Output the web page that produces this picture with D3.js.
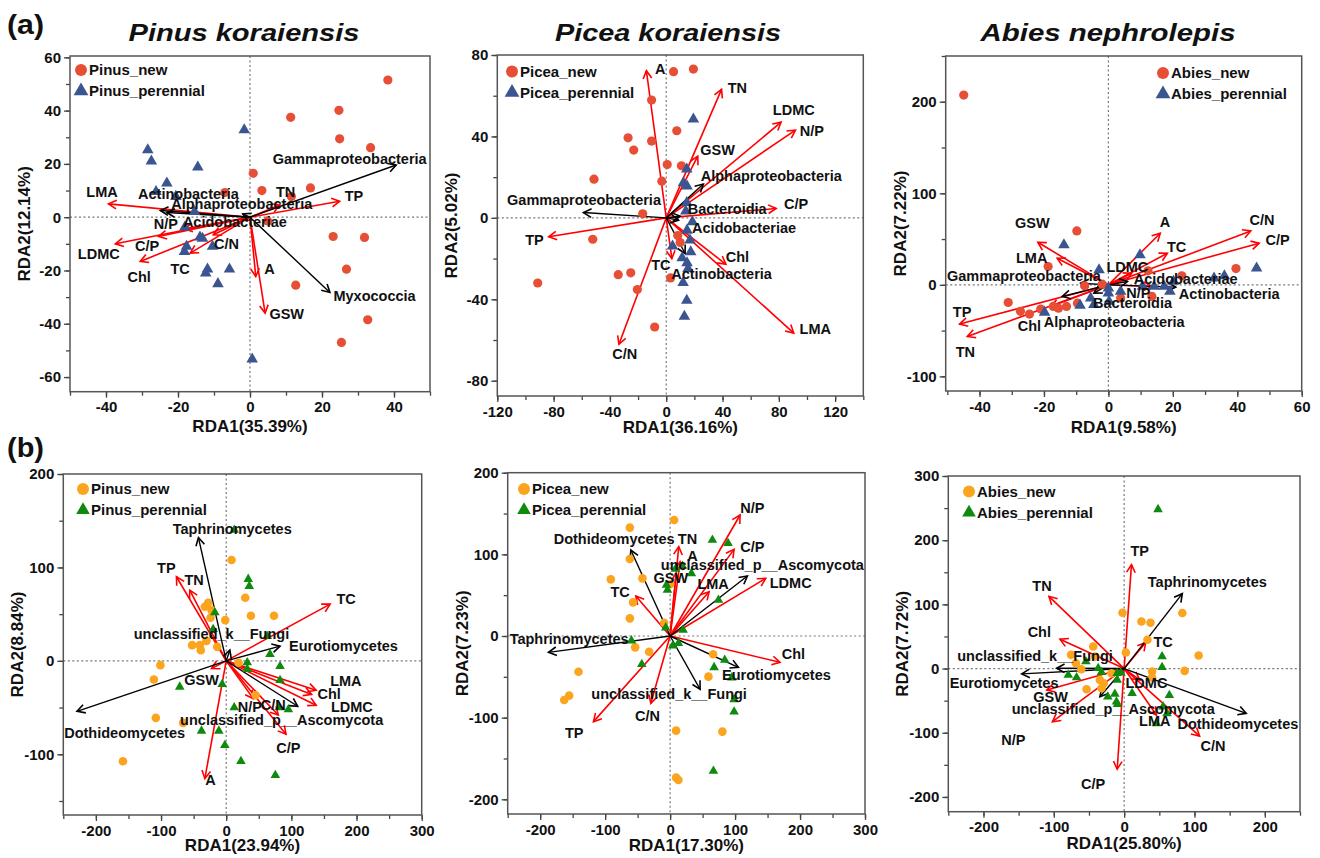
<!DOCTYPE html>
<html><head><meta charset="utf-8">
<script src="https://cdn.jsdelivr.net/npm/d3@7"></script>
<style>
body{margin:0;background:#fff;}
svg text{font-family:"Liberation Sans",Arial,sans-serif;font-weight:bold;fill:#111;}
</style></head>
<body><svg id="c" width="1320" height="858"></svg>
<script>
// ---------------- DATA ----------------
const speciesTitles = ["Pinus koraiensis","Picea koraiensis","Abies nephrolepis"];
const xAxisTitles = ["RDA1(35.39%)","RDA1(36.16%)","RDA1(9.58%)","RDA1(23.94%)","RDA1(17.30%)","RDA1(25.80%)"];
const yAxisTitles = ["RDA2(12.14%)","RDA2(5.02%)","RDA2(7.22%)","RDA2(8.84%)","RDA2(7.23%)","RDA2(7.72%)"];
const legendNew = ["Pinus_new","Picea_new","Abies_new","Pinus_new","Picea_new","Abies_new"];
const legendPer = ["Pinus_perennial","Picea_perennial","Abies_perennial","Pinus_perennial","Picea_perennial","Abies_perennial"];
const xDomains = [[-50,50],[-120,140],[-50.5,60],[-250,300],[-250,300],[-250,250]];
const yDomains = [[-65.5,60.5],[-87.5,80],[-116,250],[-165,200],[-218,200],[-223,300]];
const xTicks = [[-40,-20,0,20,40],[-120,-80,-40,0,40,80,120],[-40,-20,0,20,40,60],[-200,-100,0,100,200,300],[-200,-100,0,100,200,300],[-200,-100,0,100,200]];
const yTicks = [[-60,-40,-20,0,20,40,60],[-80,-40,0,40,80],[-100,0,100,200],[-100,0,100,200],[-200,-100,0,100,200],[-200,-100,0,100,200,300]];
const xMinorStep = [10,20,10,50,50,50];
const yMinorStep = [10,20,50,50,50,50];

// (a) bacteria - Pinus
const pinusBactNew = [[38.3,51.5],[24.7,40.1],[11.3,37.5],[24.9,29.4],[33.5,26.1],[0.9,16.5],[16.8,11],[3.3,10],[11.5,7.75],[-7.0,9.25],[4.9,-1.4],[23.1,-7.25],[31.8,-7.6],[26.8,-19.5],[12.7,-25.5],[32.7,-38.5],[25.4,-47]];
const pinusBactPer = [[-1.6,32.75],[-28.4,25.25],[-27.4,21],[-14.5,18.75],[-23.1,12.75],[-26.1,9.6],[-20.6,7.75],[-15.4,2.1],[-18.1,-3.75],[-13.9,-7.5],[-13.2,-8],[-17.6,-11],[-18.2,-12.9],[-10.4,-11],[-11.8,-19.5],[-12.3,-21],[-5.7,-19.5],[-8.9,-25],[0.6,-53.25]];
const pinusBactEnv = [
 {n:"LMA",x:-39.3,y:5,lx:-41.1,ly:9.6},{n:"TP",x:24.9,y:6,lx:28.9,ly:8},{n:"TN",x:8.3,y:4.6,lx:9.9,ly:9.6},
 {n:"LDMC",x:-37.4,y:-10,lx:-42,ly:-13.9},{n:"Chl",x:-30.5,y:-16.6,lx:-30.8,ly:-22.5},{n:"C/P",x:-25.4,y:-7.25,lx:-28.6,ly:-10.75},
 {n:"N/P",x:-18.2,y:-4.4,lx:-23.4,ly:-2.5},{n:"TC",x:-16.6,y:-13.5,lx:-19.4,ly:-19.25},{n:"C/N",x:-10.2,y:-6.6,lx:-6.5,ly:-10},
 {n:"A",x:1.6,y:-22.25,lx:5.4,ly:-19.5},{n:"GSW",x:4.2,y:-36,lx:10.2,ly:-36.25}];
const pinusBactTaxa = [
 {n:"Gammaproteobacteria",x:40.6,y:19.6,lx:27.7,ly:21.75},{n:"Myxococcia",x:22.2,y:-28.25,lx:34.6,ly:-29.4},
 {n:"Actinobacteria",x:-24.9,y:2.5,lx:-17.1,ly:8.6},{n:"Alphaproteobacteria",x:-23.1,y:1.75,lx:-2.3,ly:4.9},
 {n:"Acidobacteriae",x:-2,y:1.2,lx:-4.2,ly:-1.9}];

// (a) bacteria - Picea
const piceaBactNew = [[5.2,71.8],[19.3,73.1],[-10.4,57.9],[7.5,42.8],[-27.1,39.3],[-10.4,37.7],[-23.1,33.3],[0.7,26.2],[10.8,25.6],[-51.3,19],[-3.1,18],[-16.7,2],[-52.2,-10.5],[8.2,-8.7],[9.9,-12.1],[-25.2,-27],[-34.1,-27.9],[3.1,-29.5],[-20.5,-35.2],[-91.3,-32],[-8.2,-53.6]];
const piceaBactPer = [[19.3,48.5],[14.6,23.9],[12.2,17.2],[14.8,15.6],[14.6,7.5],[13.9,3.3],[18.6,-2],[14.8,-6.1],[16.9,-11],[17.4,-16.7],[4.5,-13.9],[11.3,-19.7],[14.8,-22.1],[15.5,-24.9],[12,-31.8],[14.6,-40.5],[12.9,-48.4]];
const piceaBactEnv = [
 {n:"A",x:-14.1,y:72.3,lx:-4.2,ly:73.4},{n:"TN",x:39.3,y:63.1,lx:50.6,ly:63.9},{n:"LDMC",x:81.6,y:47,lx:90.6,ly:53},
 {n:"N/P",x:91.8,y:43.1,lx:103.5,ly:42.8},{n:"GSW",x:22.4,y:30.3,lx:36.5,ly:33.6},{n:"C/P",x:78.1,y:4.6,lx:92.2,ly:7},
 {n:"TP",x:-83.5,y:-9.3,lx:-93.6,ly:-10.7},{n:"Chl",x:42.4,y:-22.8,lx:50.6,ly:-19.2},{n:"LMA",x:90.6,y:-56.6,lx:105.9,ly:-54.4},
 {n:"C/N",x:-33.6,y:-62.1,lx:-29.4,ly:-67},{n:"TC",x:4,y:-20,lx:-3.8,ly:-22.8}];
const piceaBactTaxa = [
 {n:"Gammaproteobacteria",x:-58.8,y:2.6,lx:-58.4,ly:8.7},{n:"Alphaproteobacteria",x:26.4,y:16.6,lx:74.6,ly:20.5},
 {n:"Bacteroidia",x:9.9,y:0.8,lx:43.3,ly:4.3},{n:"Acidobacteriae",x:8.7,y:-1.1,lx:55.3,ly:-4.8},
 {n:"Actinobacteria",x:13.4,y:-17.5,lx:39.3,ly:-27.4}];

// (a) bacteria - Abies
const abiesBactNew = [[-44.9,207.3],[-9.8,58.9],[-18.7,20],[-7.4,-1.1],[-1.9,0.7],[12.3,15.3],[22.8,9.8],[39.6,17.8],[13.5,-12.7],[3.8,-14.5],[-9.6,-20],[-13,-23.6],[-15.5,-25.5],[-17.1,-23.6],[-21,-26.5],[-24.5,-32],[-27.3,-29],[-31.1,-19.3]];
const abiesBactPer = [[-13.8,43.6],[-2.9,16.4],[9.8,32.7],[10.6,-1.8],[14.2,-1.8],[17.3,-1.8],[19.1,-7.3],[20.2,3.6],[32.8,7.3],[36,9.8],[46,18.2],[3.8,-7.3],[0,-9.1],[0.2,-18.2],[-5.5,-14.5],[-4.5,-21.8],[-8.8,-22.5],[-19.8,-30.2],[0,-3.6]];
const abiesBactEnv = [
 {n:"GSW",x:-21.9,y:46.5,lx:-23.6,ly:67.3},{n:"LMA",x:-15.9,y:29.1,lx:-23.8,ly:29.1},{n:"A",x:16.1,y:56.4,lx:17.6,ly:69.1},
 {n:"TC",x:18.3,y:34.5,lx:21.2,ly:41.1},{n:"C/N",x:44.2,y:58.9,lx:47.7,ly:70.9},{n:"C/P",x:46.8,y:45.5,lx:52.5,ly:49.1},
 {n:"TP",x:-46.2,y:-42.9,lx:-45.4,ly:-29.1},{n:"TN",x:-43.8,y:-56.4,lx:-44.4,ly:-72.7},{n:"Chl",x:-17.9,y:-23.6,lx:-24.5,ly:-44.4},
 {n:"N/P",x:13.4,y:-1.8,lx:9.3,ly:-9.1},{n:"LDMC",x:7.2,y:12.7,lx:5.9,ly:20}];
const abiesBactTaxa = [
 {n:"Gammaproteobacteria",x:-8.6,y:1.8,lx:-26.2,ly:10.2},{n:"Acidobacteriae",x:5.9,y:3.6,lx:24,ly:6.2},
 {n:"Actinobacteria",x:20.9,y:-2.5,lx:37.5,ly:-9.8},{n:"Bacteroidia",x:-4.5,y:-9.1,lx:7.5,ly:-20},
 {n:"Alphaproteobacteria",x:-14.3,y:-12.7,lx:1.8,ly:-40.7}];

// (b) fungi - Pinus
const pinusFungNew = [[8.2,107.9],[29.2,67.5],[-27.7,62.1],[-32.8,57.9],[-22.6,54.3],[-24.1,46.1],[-1.5,43.6],[37.9,48.2],[73.3,48.2],[-52.3,16.8],[-40.5,16.8],[-30.3,21.4],[-39,11.4],[-13.8,15],[19,-2.1],[-101,-4.6],[-111,-20],[-108,-61],[-66,-66.4],[-158.5,-107.5],[45.1,-36.8]];
const pinusFungPer = [[12.3,140],[33.8,87.5],[35.4,80],[-17.4,51.8],[-20,33.9],[63,26.4],[67.2,7.1],[32.3,-1.8],[32.3,-8.9],[82.6,-5.7],[82.6,-20.7],[-6.2,-25],[-71.3,-27.9],[12.3,-50],[81.5,-50],[95.4,-52.1],[-37.9,-75],[-11.3,-75],[-2.1,-90.4],[22.6,-107.5],[75.4,-122.5]];
const pinusFungEnv = [
 {n:"TP",x:-76.4,y:90,lx:-91.8,ly:99.6},{n:"TN",x:-55.9,y:75.7,lx:-49.2,ly:87.1},{n:"TC",x:159.5,y:60.7,lx:184.1,ly:66.8},
 {n:"LMA",x:138,y:-31.4,lx:183.6,ly:-21.8},{n:"Chl",x:131,y:-36,lx:157.9,ly:-35.4},{n:"LDMC",x:138,y:-47.5,lx:192.8,ly:-49.3},
 {n:"N/P",x:41.5,y:-40.4,lx:36.4,ly:-49.3},{n:"C/N",x:80,y:-58,lx:72.3,ly:-47.5},{n:"C/P",x:91.8,y:-78.6,lx:95.4,ly:-93.2},
 {n:"A",x:-32.8,y:-126,lx:-24.1,ly:-127},{n:"GSW",x:-22.6,y:-8.2,lx:-37.9,ly:-20.7}];
const pinusFungTaxa = [
 {n:"Taphrinomycetes",x:-42.6,y:132,lx:9.2,ly:141.4},{n:"Eurotiomycetes",x:82.6,y:15.7,lx:180,ly:15.7},
 {n:"Dothideomycetes",x:-229,y:-54,lx:-155.9,ly:-77.1},{n:"unclassified_k__Fungi",x:5.6,y:11.4,lx:-22.6,ly:28.6},
 {n:"unclassified_p__Ascomycota",x:109.7,y:-48.6,lx:85.1,ly:-62.9}];

// (b) fungi - Picea
const piceaFungNew = [[6.2,142],[-62,132.7],[-62,94.3],[-91.3,69.4],[-42.6,70.6],[0,63.3],[-57,41.2],[-62,21.6],[-9.2,16.3],[-53.8,-13.9],[-32.3,-19.2],[-141,-43.7],[-155.4,-73],[-163,-78.4],[66.2,-22.4],[59,-49.8],[9.2,-115.9],[80.5,-117.1],[9.2,-173.5],[12.8,-176.3]];
const piceaFungPer = [[65.1,117.6],[89.2,113.5],[8.2,82],[19,85.7],[32.8,76.7],[-5.6,62.4],[-4.1,56.3],[74.4,44.1],[-6.7,10.2],[20,7.3],[-59.5,-5.7],[4.1,-11.8],[12.8,-9],[-43.6,-34.7],[84.1,-29.4],[67.7,-38.4],[94.9,-51],[98.5,-77.6],[98.5,-92.7],[66.7,-165.3]];
const piceaFungEnv = [
 {n:"N/P",x:107.7,y:148.2,lx:126.7,ly:157.1},{n:"C/P",x:98.5,y:106.1,lx:126.7,ly:109.4},{n:"LDMC",x:147.2,y:70.6,lx:185.6,ly:65.7},
 {n:"TN",x:13.3,y:109.4,lx:26.7,ly:119.6},{n:"A",x:15.4,y:91,lx:34.4,ly:98},{n:"GSW",x:9.2,y:76.7,lx:1,ly:71.8},
 {n:"LMA",x:60,y:54.3,lx:66.2,ly:64.5},{n:"TC",x:-52.8,y:49,lx:-76.9,ly:54.3},{n:"Chl",x:169.2,y:-32.2,lx:189.7,ly:-22},
 {n:"C/N",x:-29.7,y:-82.4,lx:-34.9,ly:-97.6},{n:"TP",x:-118,y:-104.9,lx:-147.7,ly:-118.4}];
const piceaFungTaxa = [
 {n:"Dothideomycetes",x:-60.5,y:105.3,lx:-86.2,ly:119.6},{n:"Taphrinomycetes",x:-187.2,y:-20,lx:-155.4,ly:-2.9},
 {n:"unclassified_p__Ascomycota",x:119,y:73.5,lx:142,ly:87.8},{n:"Eurotiomycetes",x:105.1,y:-38.4,lx:163.6,ly:-46.9},
 {n:"unclassified_k__Fungi",x:46.2,y:-65.3,lx:-1.5,ly:-70.2}];

// (b) fungi - Abies
const abiesFungNew = [[-2.4,87],[24.6,73.4],[37.4,71.4],[82.7,86.5],[33.1,44.8],[-44,34.4],[2.4,25],[105.9,20.3],[-75.6,21.4],[-41.1,18.8],[-68.6,8.3],[-61,-1],[86,-3.6],[39.7,-4.7],[39.7,-14],[-18,-7.3],[-34.5,-17.7],[-32.2,-30.7],[-53.4,-32.3],[-29,-22.9]];
const abiesFungPer = [[48.2,248],[53.9,18.8],[53.9,2],[-54.4,11],[-36.9,0.5],[-79.4,-10],[-67.6,-14],[-32.2,-5.7],[-9.9,-7.3],[-9.9,-17.7],[-23.2,-43.8],[-13.2,-39.6],[-10.9,-51.6],[-9.5,-55.7],[11.3,-38.5],[64.3,-41.7],[55.3,-59.4],[61,-69.8],[45.9,-85.4],[-4.7,-6.3]];
const abiesFungEnv = [
 {n:"TP",x:10.4,y:162,lx:22.2,ly:182.8},{n:"TN",x:-106.9,y:112.5,lx:-116.8,ly:129.2},{n:"Chl",x:-91.3,y:45.8,lx:-120.6,ly:57.8},
 {n:"TC",x:30.7,y:40.6,lx:55.3,ly:41.1},{n:"GSW",x:-110,y:-33.3,lx:-104.5,ly:-43.75},{n:"N/P",x:-102,y:-82.8,lx:-157.4,ly:-111.5},
 {n:"C/P",x:-9.9,y:-156.8,lx:-44,ly:-179.2},{n:"C/N",x:107.3,y:-105.2,lx:126.2,ly:-120.3},{n:"LMA",x:45.9,y:-72.4,lx:43.5,ly:-81.25},
 {n:"LDMC",x:22.2,y:-17.7,lx:31.7,ly:-22.9}];
const abiesFungTaxa = [
 {n:"Taphrinomycetes",x:82.7,y:116.7,lx:118.2,ly:134.9},{n:"Dothideomycetes",x:173.5,y:-69.8,lx:161.7,ly:-85.4},
 {n:"Eurotiomycetes",x:-145.6,y:-8.3,lx:-170.7,ly:-21.9},{n:"unclassified_k__Fungi",x:-96,y:0.5,lx:-126.7,ly:20.3},
 {n:"unclassified_p__Ascomycota",x:-34.5,y:-43.8,lx:-15.6,ly:-63}];

// ---------------- DRAW ----------------
const svg = d3.select("#c");
const boxes = [
 {l:70,r:430,t:56,b:391.7},{l:497.3,r:863.3,t:55,b:396},{l:945.7,r:1301.7,t:56,b:391},
 {l:63.3,r:421.7,t:474,b:815},{l:507.7,r:865,t:472.7,b:814},{l:948.3,r:1300,t:476,b:811.7}];
const xTitleOffset = [40,37,41.5,36,37,37.5];
const sets = [
 [pinusBactNew,pinusBactPer,pinusBactEnv,pinusBactTaxa],
 [piceaBactNew,piceaBactPer,piceaBactEnv,piceaBactTaxa],
 [abiesBactNew,abiesBactPer,abiesBactEnv,abiesBactTaxa],
 [pinusFungNew,pinusFungPer,pinusFungEnv,pinusFungTaxa],
 [piceaFungNew,piceaFungPer,piceaFungEnv,piceaFungTaxa],
 [abiesFungNew,abiesFungPer,abiesFungEnv,abiesFungTaxa]];
const legendPos = [[81,70],[512,71.5],[1163,73],[83,489],[524,489],[969,491.5]];
const colNew = ["#E64E36","#E64E36","#E64E36","#FBA41E","#FBA41E","#FBA41E"];
const colPer = ["#3A5590","#3A5590","#3A5590","#0F8A0F","#0F8A0F","#0F8A0F"];
const fmt = d => String(d);

function minorTicks(dom, step){
  const out=[]; const s=Math.ceil(dom[0]/step)*step;
  for(let v=s; v<=dom[1]+1e-9; v+=step) out.push(+v.toFixed(6));
  return out;
}
function arrowHead(g, x0,y0,x1,y1,color){
  const a=Math.atan2(y1-y0,x1-x0), L=9, h=0.5;
  const p=[[x1-L*Math.cos(a-h),y1-L*Math.sin(a-h)],[x1,y1],[x1-L*Math.cos(a+h),y1-L*Math.sin(a+h)]];
  g.append("path").attr("d",d3.line()(p)).attr("fill","none").attr("stroke",color).attr("stroke-width",1.6).attr("stroke-linejoin","miter");
}

boxes.forEach((bx,i)=>{
  const x=d3.scaleLinear().domain(xDomains[i]).range([bx.l,bx.r]);
  const y=d3.scaleLinear().domain(yDomains[i]).range([bx.b,bx.t]);
  const g=svg.append("g");
  const fung = i>=3;
  // zero lines
  g.append("line").attr("x1",x(0)).attr("x2",x(0)).attr("y1",bx.t).attr("y2",bx.b).attr("stroke","#777").attr("stroke-width",1.2).attr("stroke-dasharray","2,2.5");
  g.append("line").attr("x1",bx.l).attr("x2",bx.r).attr("y1",y(0)).attr("y2",y(0)).attr("stroke","#777").attr("stroke-width",1.2).attr("stroke-dasharray","2,2.5");
  // axes
  const xa=g.append("g").attr("transform",`translate(0,${bx.b})`)
    .call(d3.axisBottom(x).tickValues(minorTicks(xDomains[i],xMinorStep[i])).tickSize(4).tickFormat(""));
  const xb=g.append("g").attr("transform",`translate(0,${bx.b})`)
    .call(d3.axisBottom(x).tickValues(xTicks[i]).tickSize(6).tickPadding(4).tickFormat(fmt));
  const ya=g.append("g").attr("transform",`translate(${bx.l},0)`)
    .call(d3.axisLeft(y).tickValues(minorTicks(yDomains[i],yMinorStep[i])).tickSize(4).tickFormat(""));
  const yb=g.append("g").attr("transform",`translate(${bx.l},0)`)
    .call(d3.axisLeft(y).tickValues(yTicks[i]).tickSize(6).tickPadding(3).tickFormat(fmt));
  [xa,xb,ya,yb].forEach(a=>{a.select(".domain").remove(); a.selectAll("line").attr("stroke","#444").attr("stroke-width",1.3);
     a.selectAll("text").style("font-size","15px").style("font-family","'Liberation Sans',Arial").style("font-weight","bold").attr("fill","#111");});
  // frame
  g.append("rect").attr("x",bx.l).attr("y",bx.t).attr("width",bx.r-bx.l).attr("height",bx.b-bx.t)
    .attr("fill","none").attr("stroke","#555").attr("stroke-width",1.5);
  // axis titles
  g.append("text").attr("x",(bx.l+bx.r)/2).attr("y",bx.b+xTitleOffset[i]).attr("text-anchor","middle").style("font-size","17px").text(xAxisTitles[i]);
  const yx = bx.l-40;
  g.append("text").attr("transform",`translate(${yx},${(bx.t+bx.b)/2}) rotate(-90)`).attr("text-anchor","middle").style("font-size","17px").text(yAxisTitles[i]);

  const [ptsNew, ptsPer, env, taxa] = sets[i];
  const ag=g.append("g");
  env.forEach(d=>{
    ag.append("line").attr("x1",x(0)).attr("y1",y(0)).attr("x2",x(d.x)).attr("y2",y(d.y)).attr("stroke","#FF0000").attr("stroke-width",1.6);
    arrowHead(ag,x(0),y(0),x(d.x),y(d.y),"#FF0000");
  });
  taxa.forEach(d=>{
    ag.append("line").attr("x1",x(0)).attr("y1",y(0)).attr("x2",x(d.x)).attr("y2",y(d.y)).attr("stroke","#000").attr("stroke-width",1.4);
    arrowHead(ag,x(0),y(0),x(d.x),y(d.y),"#000");
  });
  // points
  g.append("g").selectAll("circle").data(ptsNew).join("circle")
    .attr("cx",d=>x(d[0])).attr("cy",d=>y(d[1])).attr("r",fung?4.3:4.6).attr("fill",colNew[i]);
  g.append("g").selectAll("path").data(ptsPer).join("path")
    .attr("d",d3.symbol(d3.symbolTriangle, fung?40:58)).attr("transform",d=>`translate(${x(d[0])},${y(d[1])})`).attr("fill",colPer[i]);
  // labels
  const lg=g.append("g");
  env.concat(taxa).forEach(d=>{
    lg.append("text").attr("x",x(d.lx)).attr("y",y(d.ly)).attr("dy","0.36em").attr("text-anchor","middle")
      .style("font-size","14.5px").text(d.n);
  });
  // legend
  const [lx,ly]=legendPos[i];
  g.append("circle").attr("cx",lx).attr("cy",ly).attr("r",6).attr("fill",colNew[i]);
  g.append("path").attr("d",d3.symbol(d3.symbolTriangle,fung?80:95)).attr("transform",`translate(${lx},${ly+21})`).attr("fill",colPer[i]);
  g.append("text").attr("x",lx+8).attr("y",ly).attr("dy","0.36em").style("font-size","15px").text(legendNew[i]);
  g.append("text").attr("x",lx+8).attr("y",ly+21).attr("dy","0.36em").style("font-size","15px").text(legendPer[i]);
});

// titles
const titleX=[244,668,1108];
const titleW=[231,226,255];
speciesTitles.forEach((t,i)=>{
  svg.append("text").attr("x",titleX[i]-titleW[i]/2).attr("y",41).style("font-size","24px").style("font-style","italic")
    .attr("textLength",titleW[i]).attr("lengthAdjust","spacingAndGlyphs").text(t);
});
svg.append("text").attr("x",7).attr("y",34).style("font-size","27px").attr("textLength",37).attr("lengthAdjust","spacingAndGlyphs").text("(a)");
svg.append("text").attr("x",7).attr("y",457).style("font-size","27px").attr("textLength",37).attr("lengthAdjust","spacingAndGlyphs").text("(b)");
</script></body></html>
